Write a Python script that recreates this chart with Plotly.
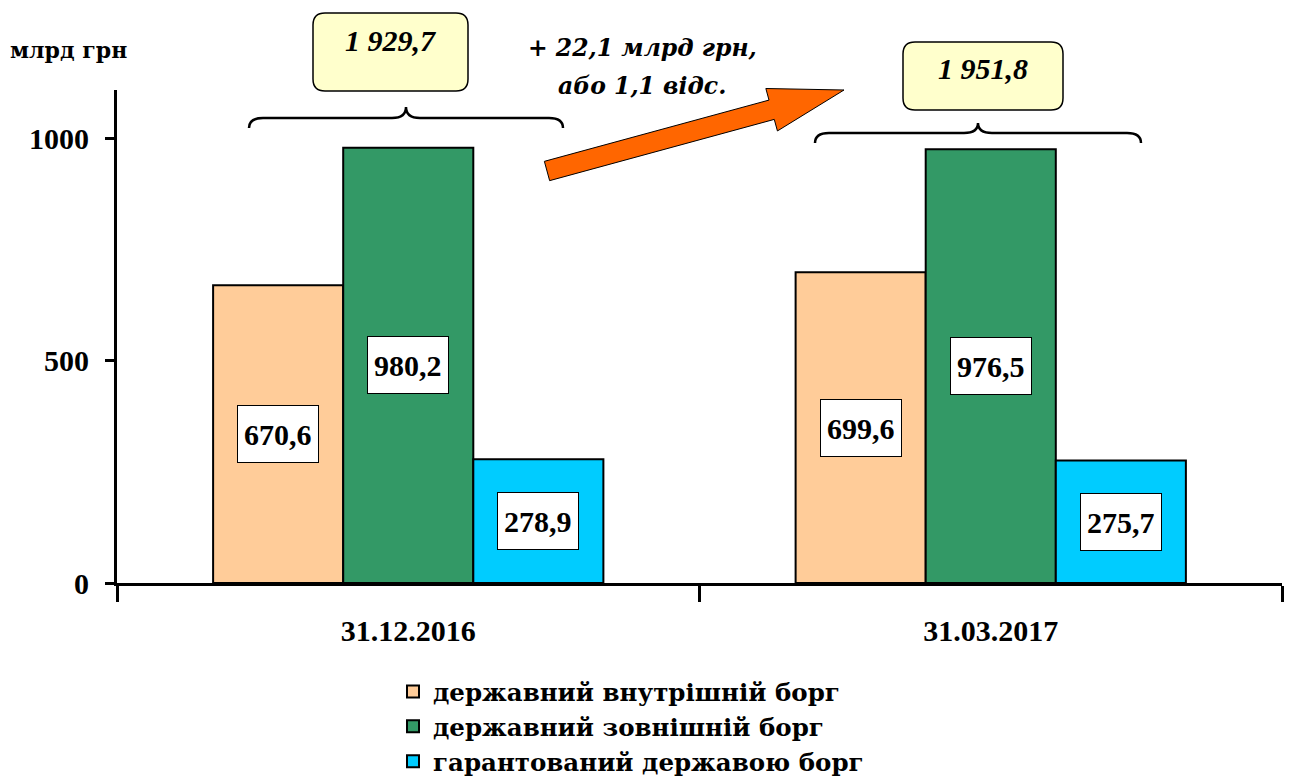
import plotly.graph_objects as go

# Дані
dates = ["31.12.2016", "31.03.2017"]
series_names = [
    "державний внутрішній борг",
    "державний зовнішній борг",
    "гарантований державою борг",
]
domestic = [670.6, 699.6]
external = [980.2, 976.5]
guaranteed = [278.9, 275.7]
y_ticks = [0, 500, 1000]

colors = ["#FFCC99", "#339966", "#00CCFF"]
FONT = "Liberation Serif"
FONT_CYR = "DejaVu Serif"  # кирилиця з засічками

# сторінка має відступ 8px, тому фігура менша на 8px
OFF = 8
W, H = 1293 - OFF, 780 - OFF
L, R, T, B = 117, 1282, 90, 583
BARGAP = 0.33


def fx(px):
    return (px - L) / (R - L)


def fy(py):
    return (B - py) / (B - T)


def fmt(v):
    s = f"{v:,.1f}".replace(",", " ").replace(".", ",")
    return s


fig = go.Figure()
series = [domestic, external, guaranteed]
for name, vals, col in zip(series_names, series, colors):
    fig.add_trace(go.Bar(
        name=f"<b>{name}</b>", x=dates, y=vals,
        marker=dict(color=col, line=dict(color="black", width=2)),
    ))

annotations = []
bw = (1 - BARGAP) / 3
for k, vals in enumerate(series):
    for i, v in enumerate(vals):
        annotations.append(dict(
            x=i + (k - 1) * bw, y=v / 2, xref="x", yref="y",
            text=f"<b>{fmt(v)}</b>", showarrow=False,
            font=dict(family=FONT, size=30, color="black"),
            bgcolor="white", bordercolor="black", borderwidth=1, borderpad=6,
            height=44,
        ))

totals = [a + b + c for a, b, c in zip(domestic, external, guaranteed)]
diff = totals[1] - totals[0]
pct = diff / totals[0] * 100

shapes = []


def rbox(x0, y0, x1, y1, r=12):
    path = (f"M {fx(x0 + r)},{fy(y0)} L {fx(x1 - r)},{fy(y0)} "
            f"Q {fx(x1)},{fy(y0)} {fx(x1)},{fy(y0 + r)} "
            f"L {fx(x1)},{fy(y1 - r)} Q {fx(x1)},{fy(y1)} {fx(x1 - r)},{fy(y1)} "
            f"L {fx(x0 + r)},{fy(y1)} Q {fx(x0)},{fy(y1)} {fx(x0)},{fy(y1 - r)} "
            f"L {fx(x0)},{fy(y0 + r)} Q {fx(x0)},{fy(y0)} {fx(x0 + r)},{fy(y0)} Z")
    return dict(type="path", xref="paper", yref="paper", path=path,
                fillcolor="#FFFFCC", line=dict(color="black", width=1.5))


def brace(x0, x1, yend, yflat, ycusp, r=14):
    xc = (x0 + x1) / 2
    path = (f"M {fx(x0)},{fy(yend)} Q {fx(x0)},{fy(yflat)} {fx(x0 + r)},{fy(yflat)} "
            f"L {fx(xc - r)},{fy(yflat)} Q {fx(xc)},{fy(yflat)} {fx(xc)},{fy(ycusp)} "
            f"Q {fx(xc)},{fy(yflat)} {fx(xc + r)},{fy(yflat)} "
            f"L {fx(x1 - r)},{fy(yflat)} Q {fx(x1)},{fy(yflat)} {fx(x1)},{fy(yend)}")
    return dict(type="path", xref="paper", yref="paper", path=path,
                line=dict(color="black", width=2.5))


shapes.append(rbox(313, 13, 468, 91))
shapes.append(rbox(903, 42, 1063, 110))
shapes.append(brace(249, 563, 128, 118, 107))
shapes.append(brace(815, 1141, 143, 133, 123))

# стрілка
tx, ty = 547, 171
px_, py_ = 844, 90
dx, dy = px_ - tx, py_ - ty
ln = (dx ** 2 + dy ** 2) ** 0.5
ux, uy = dx / ln, dy / ln
nx, ny = -uy, ux
hw, hh, hl = 10, 22, 75
hx, hy = px_ - ux * hl, py_ - uy * hl
pts = [
    (tx + nx * hw, ty + ny * hw), (hx + nx * hw, hy + ny * hw),
    (hx + nx * hh, hy + ny * hh), (px_, py_),
    (hx - nx * hh, hy - ny * hh), (hx - nx * hw, hy - ny * hw),
    (tx - nx * hw, ty - ny * hw),
]
arrow_path = "M " + " L ".join(f"{fx(a)},{fy(b)}" for a, b in pts) + " Z"
shapes.append(dict(type="path", xref="paper", yref="paper", path=arrow_path,
                   fillcolor="#FF6600", line=dict(color="black", width=1)))

ital = dict(family=FONT, size=30, color="black")
ital_cyr = dict(family=FONT_CYR, size=23.5, color="black")


def note(x, y, text, font, xanchor="center"):
    return dict(x=fx(x), y=fy(y), xref="paper", yref="paper", text=text,
                showarrow=False, font=font, xanchor=xanchor, yanchor="middle")


annotations.append(note(390, 40, f"<b><i>{fmt(totals[0])}</i></b>", ital))
annotations.append(note(983, 68, f"<b><i>{fmt(totals[1])}</i></b>", ital))
annotations.append(note(642, 48, f"<b><i>+ {fmt(diff)} млрд грн,</i></b>", ital_cyr))
annotations.append(note(642, 86, f"<b><i>або {fmt(pct)} відс.</i></b>", ital_cyr))
annotations.append(note(8, 50, "<b>млрд грн</b>",
                        dict(family=FONT_CYR, size=22, color="black"), xanchor="left"))

fig.update_layout(
    width=W, height=H,
    margin=dict(l=L - OFF, r=1293 - R, t=T - OFF, b=780 - B, autoexpand=False),
    plot_bgcolor="white", paper_bgcolor="white",
    barmode="group", bargap=BARGAP, bargroupgap=0,
    showlegend=True,
    legend=dict(x=fx(393), y=fy(669), xanchor="left", yanchor="top",
                font=dict(family=FONT_CYR, size=24.5, color="black"),
                itemwidth=30, tracegroupgap=0, bgcolor="rgba(0,0,0,0)"),
    xaxis=dict(showline=True, linecolor="black", linewidth=3,
               ticks="outside", tickson="boundaries", ticklen=16, tickwidth=3,
               tickcolor="black", ticklabelstandoff=19,
               tickfont=dict(family=FONT, size=30, color="black"),
               tickvals=dates, ticktext=[f"<b>{d}</b>" for d in dates],
               range=[-0.5, 1.5]),
    yaxis=dict(showline=True, linecolor="black", linewidth=3, range=[0, 1110],
               tickvals=y_ticks, ticktext=[f"<b>{v}</b>" for v in y_ticks],
               ticks="outside", ticklen=9, tickwidth=3,
               tickcolor="black", showgrid=False, zeroline=False,
               ticklabelstandoff=10,
               tickfont=dict(family=FONT, size=30, color="black")),
    shapes=shapes, annotations=annotations,
)

fig.write_html("out.html")
